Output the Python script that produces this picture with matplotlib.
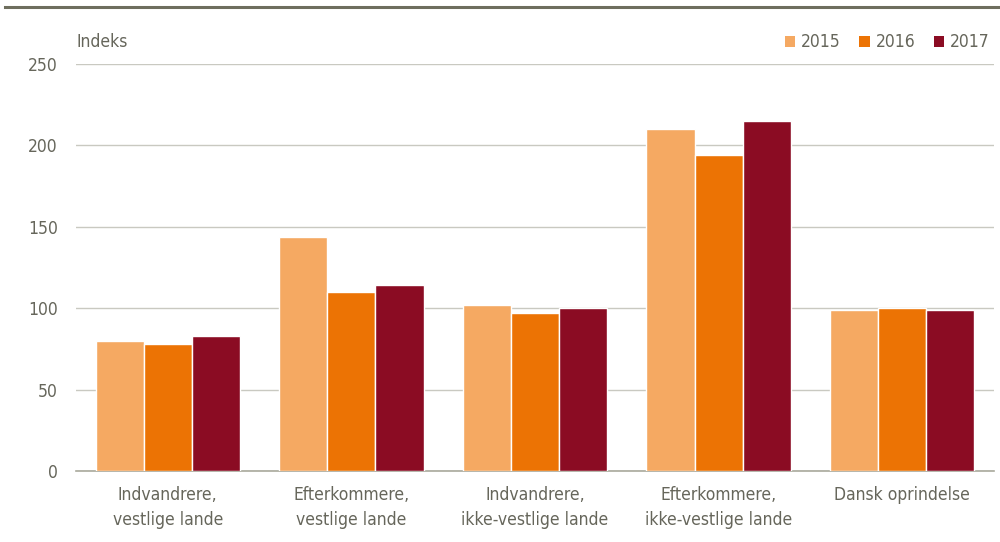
import matplotlib
matplotlib.use("Agg")
import matplotlib.pyplot as plt
from matplotlib.patches import Patch
from matplotlib.lines import Line2D
import numpy as np

categories = ["Indvandrere,\nvestlige lande", "Efterkommere,\nvestlige lande",
              "Indvandrere,\nikke-vestlige lande", "Efterkommere,\nikke-vestlige lande",
              "Dansk oprindelse"]
years = ["2015", "2016", "2017"]
v2015 = [80, 144, 102, 210, 99]
v2016 = [78, 110, 97, 194, 100]
v2017 = [83, 114, 100, 215, 99]
yticks = [0, 50, 100, 150, 200, 250]

colors = ["#F5A962", "#EC7304", "#8B0C23"]
txt = "#66665b"

plt.rcParams['font.family'] = ['DejaVu Sans']
plt.rcParams['font.stretch'] = 'condensed'

fig = plt.figure(figsize=(10, 5.42), dpi=100)
ax = fig.add_axes([0.076, 0.131, 0.918, 0.751])

x = np.arange(len(categories))
w = 0.262
for i, (vals, c) in enumerate(zip([v2015, v2016, v2017], colors)):
    ax.bar(x + (i - 1) * w, vals, width=w, color=c, edgecolor="white", linewidth=1.0, zorder=3)

ax.set_xlim(-0.5, len(categories) - 0.5)
ax.set_ylim(0, 250)
ax.set_yticks(yticks)
ax.yaxis.grid(True, color="#c9c9c1", linewidth=1.0, zorder=0)
ax.set_axisbelow(True)
for s in ["top", "right", "left"]:
    ax.spines[s].set_visible(False)
ax.spines["bottom"].set_color("#a9a99c")
ax.spines["bottom"].set_linewidth(1.2)
ax.tick_params(axis="y", length=0, pad=13, labelsize=12.5, labelcolor=txt)
ax.tick_params(axis="x", length=0, pad=11, labelsize=12.5, labelcolor=txt)
ax.set_xticks(x)
ax.set_xticklabels(categories, linespacing=1.45)

fig.text(0.076, 0.922, "Indeks", fontsize=12.5, color=txt, va="center", ha="left")

handles = [Patch(facecolor=c, edgecolor="none") for c in colors]
leg = fig.legend(handles, years, loc="center right", bbox_to_anchor=(0.99, 0.922),
                 ncol=3, frameon=False, fontsize=12.5, handlelength=0.6, handleheight=0.6,
                 handletextpad=0.35, columnspacing=1.05, borderaxespad=0, borderpad=0)
for t in leg.get_texts():
    t.set_color(txt)

fig.add_artist(Line2D([0.005, 1.0], [0.988, 0.988], transform=fig.transFigure,
                      color="#6e6e5e", linewidth=2.2))

fig.savefig("out.png", dpi=100)
